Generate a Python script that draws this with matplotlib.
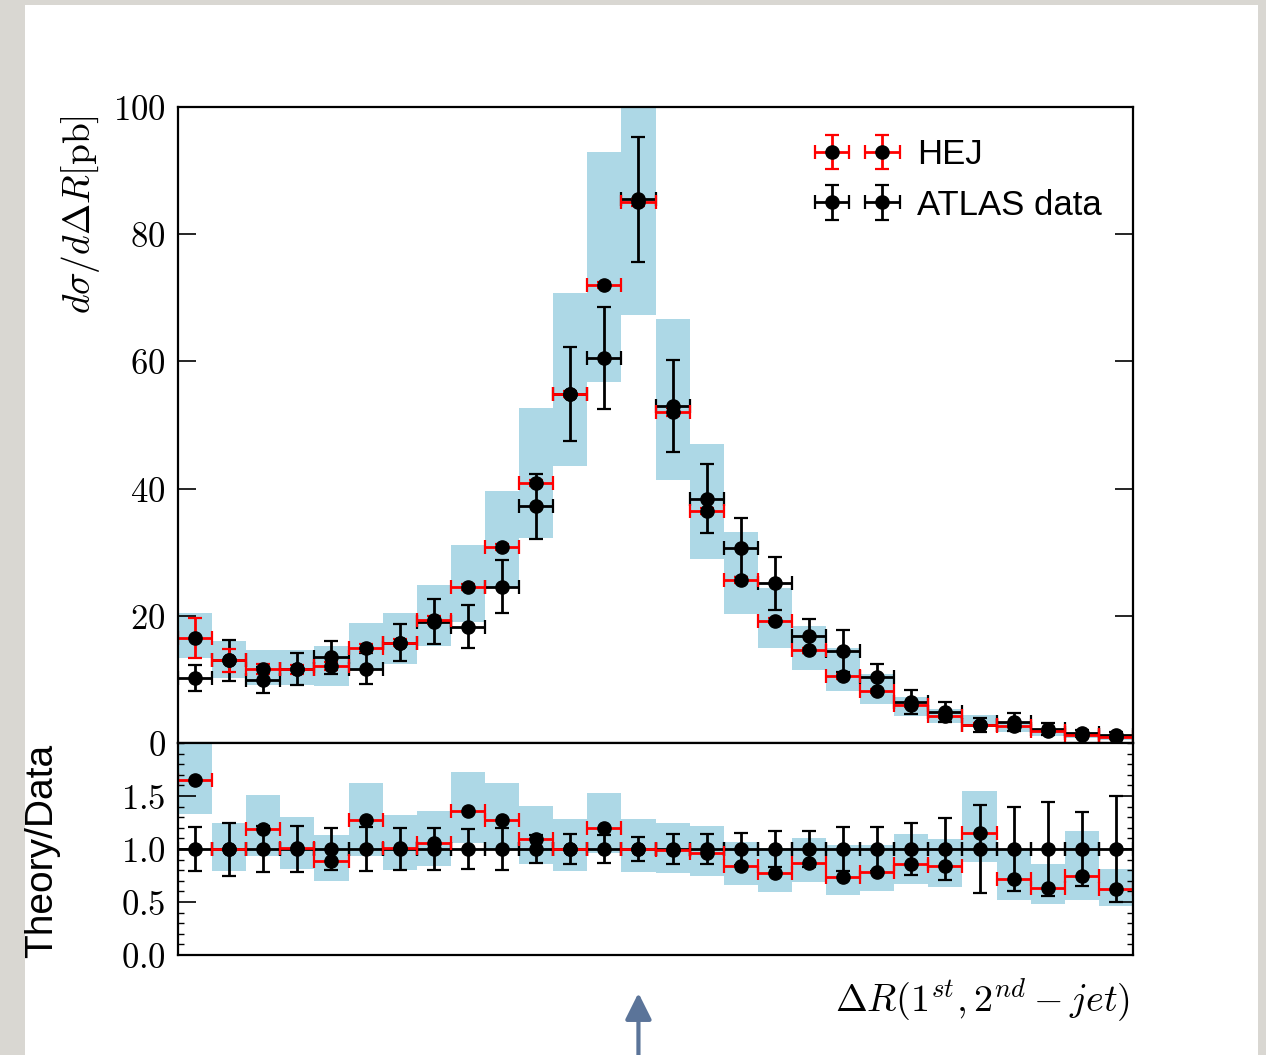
import numpy as np
import matplotlib
matplotlib.use("Agg")
import matplotlib.pyplot as plt
from matplotlib.ticker import FixedLocator, MultipleLocator, FuncFormatter
from matplotlib.patches import Rectangle

plt.rcParams['mathtext.fontset'] = 'cm'
plt.rcParams['font.family'] = ['Liberation Sans', 'DejaVu Sans']

# Delta R bin centres (bin width 0.2)
dr = [0.5, 0.7, 0.9, 1.1, 1.3, 1.5, 1.7, 1.9, 2.1, 2.3, 2.5, 2.7, 2.9, 3.1,
      3.3, 3.5, 3.7, 3.9, 4.1, 4.3, 4.5, 4.7, 4.9, 5.1, 5.3, 5.5, 5.7, 5.9]
half_bin = 0.1

# HEJ prediction [pb]
hej = [16.5, 13.0, 11.6, 11.6, 12.1, 14.9, 15.8, 19.3, 24.5, 30.8, 40.9, 54.9, 72.0, 85.0,
       52.0, 36.5, 25.6, 19.2, 14.6, 10.5, 8.2, 6.0, 4.2, 2.9, 2.7, 1.9, 1.3, 0.9]
hej_err = [3.1, 1.8, 0.8, 0.7, 0.6, 0.6, 0.6, 0.6, 0.5, 0.5, 0.5, 0.5, 0.5, 0.6,
           0.6, 0.5, 0.5, 0.4, 0.4, 0.4, 0.3, 0.3, 0.3, 0.2, 0.2, 0.2, 0.2, 0.2]
# HEJ scale-variation band
band_lo = [13.3, 10.2, 9.1, 9.1, 9.0, 11.5, 12.5, 15.3, 19.1, 24.4, 32.2, 43.5, 56.8, 67.3,
           41.3, 28.9, 20.3, 15.0, 11.5, 8.2, 6.2, 4.3, 3.1, 2.5, 1.7, 1.05, 0.78, 0.55]
band_hi = [20.5, 16.0, 14.6, 14.6, 15.3, 18.8, 20.5, 24.9, 31.2, 39.6, 52.6, 70.8, 92.9, 109.0,
           66.6, 47.0, 33.1, 24.3, 18.4, 15.0, 10.8, 7.3, 5.3, 4.4, 3.3, 1.9, 1.75, 0.97]

# ATLAS measurement [pb]
atlas = [10.2, 13.0, 9.9, 11.6, 13.5, 11.7, 15.8, 19.1, 18.3, 24.6, 37.2, 54.9, 60.5, 85.5,
         53.0, 38.4, 30.7, 25.1, 16.8, 14.4, 10.4, 6.4, 4.9, 2.9, 3.3, 2.2, 1.5, 1.2]
atlas_err = [2.1, 3.2, 2.1, 2.5, 2.6, 2.4, 2.9, 3.5, 3.35, 4.2, 5.1, 7.4, 8.0, 9.8,
             7.2, 5.4, 4.6, 4.2, 2.7, 3.3, 2.1, 1.9, 1.6, 1.1, 1.35, 1.0, 0.6, 0.6]

# Theory/Data ratio
ratio_hej = [1.65, 1.00, 1.19, 1.01, 0.89, 1.27, 1.01, 1.06, 1.36, 1.27, 1.09, 1.00, 1.20, 1.00,
             0.99, 0.96, 0.84, 0.77, 0.87, 0.74, 0.78, 0.86, 0.84, 1.15, 0.72, 0.63, 0.75, 0.62]
ratio_band_lo = [1.33, 0.79, 0.93, 0.81, 0.70, 0.93, 0.80, 0.84, 1.06, 0.99, 0.86, 0.79, 0.96, 0.78,
                 0.77, 0.75, 0.66, 0.59, 0.69, 0.57, 0.60, 0.67, 0.64, 0.88, 0.52, 0.48, 0.52, 0.46]
ratio_band_hi = [2.05, 1.25, 1.51, 1.30, 1.13, 1.62, 1.32, 1.36, 1.73, 1.62, 1.41, 1.28, 1.53, 1.28,
                 1.25, 1.22, 1.07, 1.01, 1.10, 1.04, 1.04, 1.14, 1.09, 1.55, 0.99, 0.86, 1.17, 0.81]
ratio_data = [1.0] * len(dr)
ratio_data_err = [0.21, 0.25, 0.22, 0.215, 0.195, 0.21, 0.195, 0.195, 0.185, 0.195, 0.135, 0.14, 0.135, 0.115,
                  0.14, 0.14, 0.15, 0.17, 0.17, 0.21, 0.205, 0.245, 0.295, 0.415, 0.40, 0.44, 0.35, 0.50]

W, H = 1266, 1055
fig = plt.figure(figsize=(W / 100, H / 100), dpi=100, facecolor='#d9d7d2')
fig.add_artist(Rectangle((25 / W, 0), (1258 - 25) / W, 1 - 5 / H, transform=fig.transFigure,
                         facecolor='white', edgecolor='none', zorder=-5))

ax = fig.add_axes([178 / W, 1 - 743 / H, 955 / W, 636 / H])
axr = fig.add_axes([178 / W, 1 - 955 / H, 955 / W, 212 / H], sharex=ax)

eb_style = dict(fmt='o', ms=9.5, mfc='k', mec='k', elinewidth=2.0, capsize=5, capthick=1.6)

# main panel
ax.bar(dr, np.array(band_hi) - np.array(band_lo), bottom=band_lo, width=2 * half_bin,
       color='lightblue', linewidth=0)
eb_data = ax.errorbar(dr, atlas, xerr=half_bin, yerr=atlas_err, ecolor='k', **eb_style)
eb_hej = ax.errorbar(dr, hej, xerr=half_bin, yerr=hej_err, ecolor='r', **eb_style)

ax.set_xlim(0.4, 6.0)
ax.set_ylim(0, 100)
ax.yaxis.set_major_locator(FixedLocator([0, 20, 40, 60, 80, 100]))
ax.yaxis.set_major_formatter(FuncFormatter(lambda v, p: r'$%d$' % v))
ax.tick_params(axis='y', direction='in', length=13, width=1.2, right=True, labelsize=25, pad=9)
ax.tick_params(axis='x', which='both', bottom=False, top=False, labelbottom=False)

ax.legend([eb_hej, eb_data], ['HEJ', 'ATLAS data'], loc='upper right', numpoints=2,
          frameon=False, fontsize=25, labelspacing=0.5, handlelength=2.05, handletextpad=0.7)

# ratio panel
axr.bar(dr, np.array(ratio_band_hi) - np.array(ratio_band_lo), bottom=ratio_band_lo,
        width=2 * half_bin, color='lightblue', linewidth=0)
axr.errorbar(dr, ratio_data, xerr=half_bin, yerr=ratio_data_err, ecolor='k', **eb_style)
axr.errorbar(dr, ratio_hej, xerr=half_bin, ecolor='r', **eb_style)

axr.set_ylim(0, 2)
axr.yaxis.set_major_locator(FixedLocator([0.0, 0.5, 1.0, 1.5]))
axr.yaxis.set_minor_locator(MultipleLocator(0.1))
axr.yaxis.set_major_formatter(FuncFormatter(lambda v, p: r'$%.1f$' % v))
axr.tick_params(axis='y', which='major', direction='in', length=13, width=1.2, right=True,
                labelsize=25, pad=9)
axr.tick_params(axis='y', which='minor', direction='in', length=4.5, width=1.0, right=True)
axr.tick_params(axis='x', which='both', bottom=False, top=False, labelbottom=False)

for a in (ax, axr):
    for s in a.spines.values():
        s.set_linewidth(1.6)

fig.text(80 / W, 1 - 215 / H, r'$d\sigma/d\Delta R[\mathrm{pb}]$', rotation=90,
         ha='center', va='center', fontsize=27)
fig.text(42 / W, 1 - 851 / H, 'Theory/Data', rotation=90, ha='center', va='center', fontsize=28)
fig.text(1130 / W, 1 - 1000 / H, r'$\Delta R(1^{st}, 2^{nd}-jet)$', ha='right', va='center',
         fontsize=27.5)

# arrow marking the back-to-back peak
peak = dr[int(np.argmax(hej))]
axr.annotate('', xy=(peak, 1 - 993 / H), xycoords=('data', 'figure fraction'),
             xytext=(peak, 0.0), textcoords=('data', 'figure fraction'),
             arrowprops=dict(arrowstyle='-|>', color='#5b7499', lw=3, mutation_scale=40,
                             shrinkA=0, shrinkB=0),
             annotation_clip=False)

fig.savefig('out.png', dpi=100, facecolor=fig.get_facecolor())
